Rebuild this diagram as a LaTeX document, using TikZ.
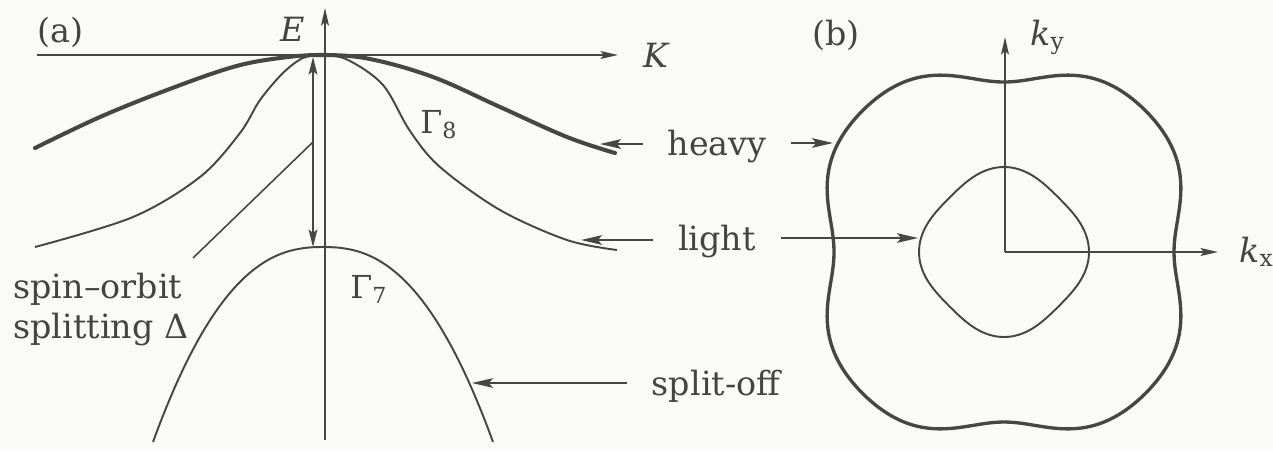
\documentclass[tikz,border=0pt]{standalone}
\usepackage{fontspec}
\setmainfont{DejaVu Serif}
\usetikzlibrary{arrows.meta}
\definecolor{linecol}{RGB}{70,70,70}
\definecolor{txtcol}{RGB}{68,68,68}
\definecolor{bgcol}{RGB}{250,251,248}
\begin{document}
\begin{tikzpicture}[x=0.02cm,y=-0.02cm,
  thin line/.style={draw=linecol, line width=1.1pt},
  axisline/.style={draw=linecol, line width=0.95pt, -{Stealth[length=10pt,width=4.5pt,inset=2pt]}},
  heavyband/.style={draw=linecol, line width=2.3pt, line cap=round},
  arr/.style={draw=linecol, line width=1.0pt, -{Stealth[length=12pt,width=5.5pt,inset=2.5pt]}},
  dbl/.style={draw=linecol, line width=1.0pt, {Stealth[length=10pt,width=5pt,inset=2pt]}-{Stealth[length=10pt,width=5pt,inset=2pt]}},
  lbl/.style={text=txtcol, inner sep=0pt, font=\fontsize{19}{22}\selectfont},
  albl/.style={lbl, inner xsep=14pt},
  glbl/.style={text=txtcol, inner sep=0pt, font=\fontsize{18}{21}\selectfont}
]
\fill[bgcol] (0,0) rectangle (1273,451);
\useasboundingbox (0,0) rectangle (1273,451);

% ---------- panel (a) ----------
\node[lbl, anchor=base west] (pa) at (37,42) {(a)};
\node[lbl, anchor=base] (Elab) at (293,41) {\textit{E}};
\node[lbl, anchor=base west] (Klab) at (643,67) {\textit{K}};

\coordinate (Ebot) at (325,440);
\coordinate (Etop) at (325,8);
\coordinate (Kleft) at (37,55);
\coordinate (Kright) at (618,55);
\draw[axisline] (Ebot) -- (Etop);
\draw[axisline] (Kleft) -- (Kright);

% heavy hole band
\draw[heavyband] plot[smooth, tension=0.6] coordinates
  {(35,148) (100,117) (167,90) (233,67) (280,58) (323,55) (370,59) (433,77) (500,107) (567,137) (615,153)};
% light hole band
\draw[thin line] plot[smooth, tension=0.55] coordinates
  {(35,247) (133,217) (200,177) (240,133) (260,100) (283,73) (303,58) (323,55) (348,60) (383,85) (410,131) (440,167) (500,210) (567,240) (617,250)};
% split-off band
\draw[thin line] plot[domain=-170:170, samples=68] ({323+\x},{247+195*(abs(\x)/170)^2.4});

\node[glbl, anchor=base west] (g8) at (420,133) {Γ\textsubscript{8}};
\node[glbl, anchor=base west] (g7) at (350,298) {Γ\textsubscript{7}};

% spin-orbit splitting
\coordinate (dT) at (313,57);
\coordinate (dB) at (313,247);
\draw[dbl] (dT) -- (dB);
\coordinate (leadA) at (313,142);
\coordinate (leadB) at (193,258);
\draw[thin line, line width=0.9pt] (leadA) -- (leadB);
\node[lbl, anchor=base west] (so1) at (13,298) {spin–orbit};
\node[lbl, anchor=base west] (so2) at (13,338) {splitting Δ};

% labels with arrows
\node[albl, anchor=base] (heavyL) at (717,155) {heavy};
\node[albl, anchor=base] (lightL) at (717,250) {light};
\node[albl, anchor=base] (splitL) at (716,395) {split-off};

\coordinate (hvA) at (600,144);
\coordinate (ltA) at (581,240);
\coordinate (soA) at (472,383);
\draw[arr] (heavyL.west |- hvA) -- (hvA);
\draw[arr] (lightL.west |- ltA) -- (ltA);
\draw[arr] (splitL.west |- soA) -- (soA);

% ---------- panel (b) ----------
\node[lbl, anchor=base west] (pb) at (812,45) {(b)};
\coordinate (O) at (1005,252);
\coordinate (kyT) at (1005,37);
\coordinate (kxT) at (1218,252);
\draw[axisline] (O) -- (kyT);
\draw[axisline] (O) -- (kxT);
\node[lbl, anchor=base west] (kyL) at (1030,45) {\textit{k}\textsubscript{y}};
\node[lbl, anchor=base west] (kxL) at (1239,262) {\textit{k}\textsubscript{x}};

% heavy-hole constant-energy surface
\draw[draw=linecol, line width=1.9pt] plot[domain=0:357.5, samples=144, smooth cycle]
  ({1004+(188-15*cos(4*\x)-3*cos(8*\x))*cos(\x)},{252+(188-15*cos(4*\x)-3*cos(8*\x))*sin(\x)});
% light-hole constant-energy surface
\draw[draw=linecol, line width=1.1pt] plot[domain=0:357.5, samples=144, smooth cycle]
  ({1004+(81+4*cos(4*\x))*cos(\x)},{252+(81+4*cos(4*\x))*sin(\x)});

\coordinate (hvB) at (833,143);
\coordinate (ltB) at (918,238);
\draw[arr] (heavyL.east |- hvB) -- (hvB);
\draw[arr] (lightL.east |- ltB) -- (ltB);
\end{tikzpicture}
\end{document}
